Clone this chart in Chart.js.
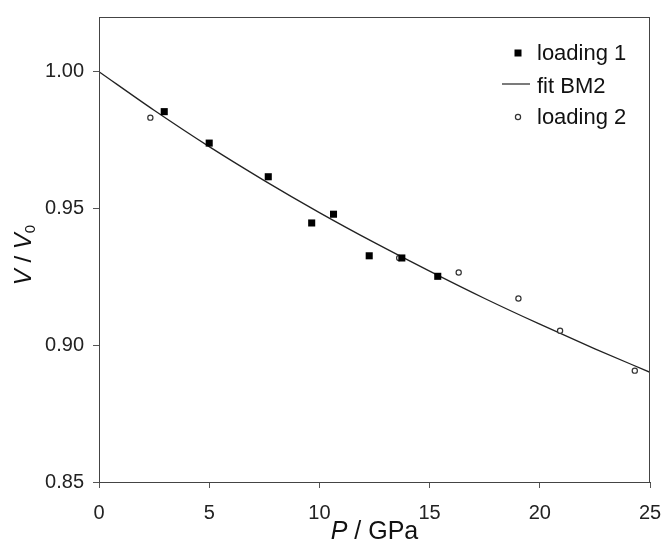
<!DOCTYPE html>
<html>
<head>
<meta charset="utf-8">
<script src="https://cdn.jsdelivr.net/npm/chart.js@4.4.0/dist/chart.umd.min.js"></script>
<style>
  body { margin: 0; background: #fff; }
  #wrap { width: 661px; height: 541px; }
</style>
</head>
<body>
<div id="wrap"><canvas id="chart" width="661" height="541"></canvas></div>
<script>
// values
const load1P = [2.96, 5.00, 7.68, 9.65, 10.64, 12.26, 13.74, 15.37];
const load1V = [0.9854, 0.9739, 0.9616, 0.9447, 0.9479, 0.9327, 0.9319, 0.9252];
const load2P = [2.33, 13.62, 16.32, 19.03, 20.92, 24.31];
const load2V = [0.9832, 0.9319, 0.9266, 0.9171, 0.9053, 0.8907];
const fitP = [0, 2.5, 5, 7.5, 10, 12.5, 15, 17.5, 20, 22.5, 25];
const fitV = [1.0000, 0.9859, 0.9726, 0.9602, 0.9485, 0.9375, 0.9271, 0.9171, 0.9077, 0.8987, 0.8901];
const xTicks = [0, 5, 10, 15, 20, 25];
const yTicks = [0.85, 0.90, 0.95, 1.00];

const legendNames = ['loading 1', 'fit BM2', 'loading 2'];

function pts(xs, ys) {
    return xs.map((x, i) => ({ x: x, y: ys[i] }));
}

const FONT = '"Liberation Sans", Arial, sans-serif';

// border box, axis titles and the legend
const extras = {
    id: 'extras',
    afterDraw(chart) {
        const ctx = chart.ctx;
        const a = chart.chartArea;
        ctx.save();
        ctx.strokeStyle = '#444';
        ctx.lineWidth = 1;
        ctx.strokeRect(Math.round(a.left) + 0.5, Math.round(a.top) + 0.5,
            Math.round(a.right - a.left) - 1, Math.round(a.bottom - a.top));

        ctx.fillStyle = '#111';
        ctx.textBaseline = 'alphabetic';
        ctx.textAlign = 'left';

        // x title: P / GPa
        ctx.font = 'italic 25px ' + FONT;
        const wP = ctx.measureText('P').width;
        ctx.font = '25px ' + FONT;
        const wRest = ctx.measureText(' / GPa').width;
        let x = (a.left + a.right) / 2 - (wP + wRest) / 2;
        const yb = 539;
        ctx.font = 'italic 25px ' + FONT;
        ctx.fillText('P', x, yb);
        ctx.font = '25px ' + FONT;
        ctx.fillText(' / GPa', x + wP, yb);

        // y title: V / V0
        ctx.save();
        ctx.translate(31, 255);
        ctx.rotate(-Math.PI / 2);
        ctx.font = 'italic 24px ' + FONT;
        const wV = ctx.measureText('V').width;
        ctx.font = '24px ' + FONT;
        const wS = ctx.measureText(' / ').width;
        ctx.font = '15px ' + FONT;
        const w0 = ctx.measureText('0').width;
        let t = -(wV * 2 + wS + w0) / 2;
        ctx.font = 'italic 24px ' + FONT;
        ctx.fillText('V', t, 0);
        ctx.font = '24px ' + FONT;
        ctx.fillText(' / ', t + wV, 0);
        ctx.font = 'italic 24px ' + FONT;
        ctx.fillText('V', t + wV + wS, 0);
        ctx.font = '15px ' + FONT;
        ctx.fillText('0', t + 2 * wV + wS, 4);
        ctx.restore();

        // legend
        const rows = [53, 86, 117];
        const mx = 518, tx = 537;
        ctx.fillStyle = '#000';
        ctx.fillRect(mx - 3.5, rows[0] - 3.5, 7, 7);
        ctx.strokeStyle = '#222';
        ctx.lineWidth = 1.2;
        ctx.beginPath();
        ctx.moveTo(502, rows[1] - 2);
        ctx.lineTo(530, rows[1] - 2);
        ctx.stroke();
        ctx.beginPath();
        ctx.arc(mx, rows[2], 2.6, 0, Math.PI * 2);
        ctx.fillStyle = '#fff';
        ctx.fill();
        ctx.strokeStyle = '#333';
        ctx.stroke();
        ctx.fillStyle = '#111';
        ctx.font = '22px ' + FONT;
        ctx.textBaseline = 'middle';
        legendNames.forEach((n, i) => ctx.fillText(n, tx, rows[i] + 1));
        ctx.restore();
    }
};

const ctx = document.getElementById('chart').getContext('2d');
const myChart = new Chart(ctx, {
    type: 'scatter',
    data: {
        datasets: [
            {
                label: legendNames[0],
                data: pts(load1P, load1V),
                pointStyle: 'rect',
                pointRadius: 5,
                backgroundColor: '#000',
                borderColor: '#000',
                borderWidth: 0,
                order: 1,
            },
            {
                label: legendNames[1],
                data: pts(fitP, fitV),
                showLine: true,
                pointRadius: 0,
                borderColor: '#222',
                borderWidth: 1.3,
                cubicInterpolationMode: 'monotone',
                order: 2,
            },
            {
                label: legendNames[2],
                data: pts(load2P, load2V),
                pointStyle: 'circle',
                pointRadius: 2.6,
                backgroundColor: '#fff',
                borderColor: '#333',
                borderWidth: 1.2,
                order: 1,
            },
        ],
    },
    options: {
        responsive: false,
        animation: false,
        layout: { padding: { top: 17, right: 11, left: 0, bottom: 0 } },
        plugins: {
            legend: { display: false },
            tooltip: { enabled: false },
        },
        scales: {
            x: {
                type: 'linear',
                min: 0,
                max: 25,
                afterBuildTicks: (s) => { s.ticks = xTicks.map(v => ({ value: v })); },
                afterFit: (s) => { s.height = 59; s.paddingLeft = 0; s.paddingRight = 0; },
                ticks: {
                    color: '#222',
                    font: { family: FONT, size: 20 },
                    padding: 13,
                    maxRotation: 0,
                },
                grid: { drawOnChartArea: false, tickLength: 6, color: '#555' },
                border: { color: '#444' },
            },
            y: {
                type: 'linear',
                min: 0.85,
                max: 1.02,
                afterBuildTicks: (s) => { s.ticks = yTicks.map(v => ({ value: v })); },
                afterFit: (s) => { s.width = 99; s.paddingTop = 0; s.paddingBottom = 0; },
                ticks: {
                    color: '#222',
                    font: { family: FONT, size: 20 },
                    padding: 9,
                    callback: (v) => v.toFixed(2),
                },
                grid: { drawOnChartArea: false, tickLength: 6, color: '#555' },
                border: { color: '#444' },
            },
        },
    },
    plugins: [extras],
});
</script>
</body>
</html>
